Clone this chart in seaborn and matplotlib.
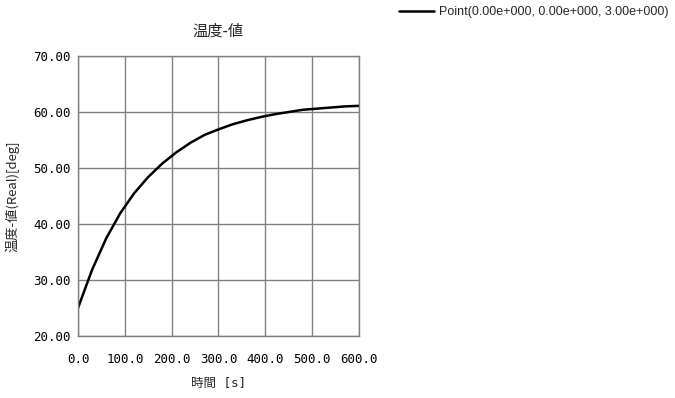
import seaborn as sns
import matplotlib.pyplot as plt
import pandas as pd

# time [s] and temperature [deg]
time_s = [0, 30, 60, 90, 120, 150, 180, 210, 240, 270, 300,
          330, 360, 390, 420, 450, 480, 510, 540, 570, 600]
temp_deg = [25.0, 31.8, 37.4, 41.9, 45.5, 48.4, 50.8, 52.8, 54.5, 55.9, 56.9,
            57.8, 58.5, 59.1, 59.6, 60.0, 60.4, 60.6, 60.8, 61.0, 61.1]
x_ticks = [0, 100, 200, 300, 400, 500, 600]
y_ticks = [20, 30, 40, 50, 60, 70]
series_name = 'Point(0.00e+000, 0.00e+000, 3.00e+000)'

df = pd.DataFrame({'t': time_s, 'T': temp_deg, 'series': series_name})

sns.set_style('white')
plt.rcParams['font.family'] = ['DejaVu Sans Mono', 'Noto Sans CJK JP']

fig = plt.figure(figsize=(6.75, 3.98), dpi=100)
ax = fig.add_axes([78 / 675, 62 / 398, 281 / 675, 280 / 398])

sns.lineplot(data=df, x='t', y='T', hue='series', palette=['black'],
             linewidth=1.8, ax=ax, legend=False)

ax.set_xlim(0, 600)
ax.set_ylim(20, 70)
ax.set_xticks(x_ticks)
ax.set_yticks(y_ticks)
ax.set_xticklabels([f'{v:.1f}' for v in x_ticks])
ax.set_yticklabels([f'{v:.2f}' for v in y_ticks])
ax.tick_params(axis='both', length=0, labelsize=9, colors='black')
ax.tick_params(axis='x', pad=12)
ax.tick_params(axis='y', pad=5)
ax.grid(True, color='#808080', linewidth=1)
for s in ax.spines.values():
    s.set_color('#808080')
    s.set_linewidth(1)

ax.set_title('温度-値', fontsize=11, pad=15, family=['Noto Sans CJK JP'])
ax.set_xlabel('時間 [s]', fontsize=9, labelpad=8)
ax.set_ylabel('温度-値(Real)[deg]', fontsize=9.5, labelpad=10,
              family=['Noto Sans CJK JP'])

handle = plt.Line2D([], [], color='black', linewidth=1.8)
fig.legend([handle], [series_name], loc='upper right', bbox_to_anchor=(1.0, 1.0),
           frameon=False, handlelength=2.8, handletextpad=0.4, borderaxespad=0.1,
           prop={'family': 'Liberation Sans', 'size': 9})

fig.savefig('out.png', dpi=100)
